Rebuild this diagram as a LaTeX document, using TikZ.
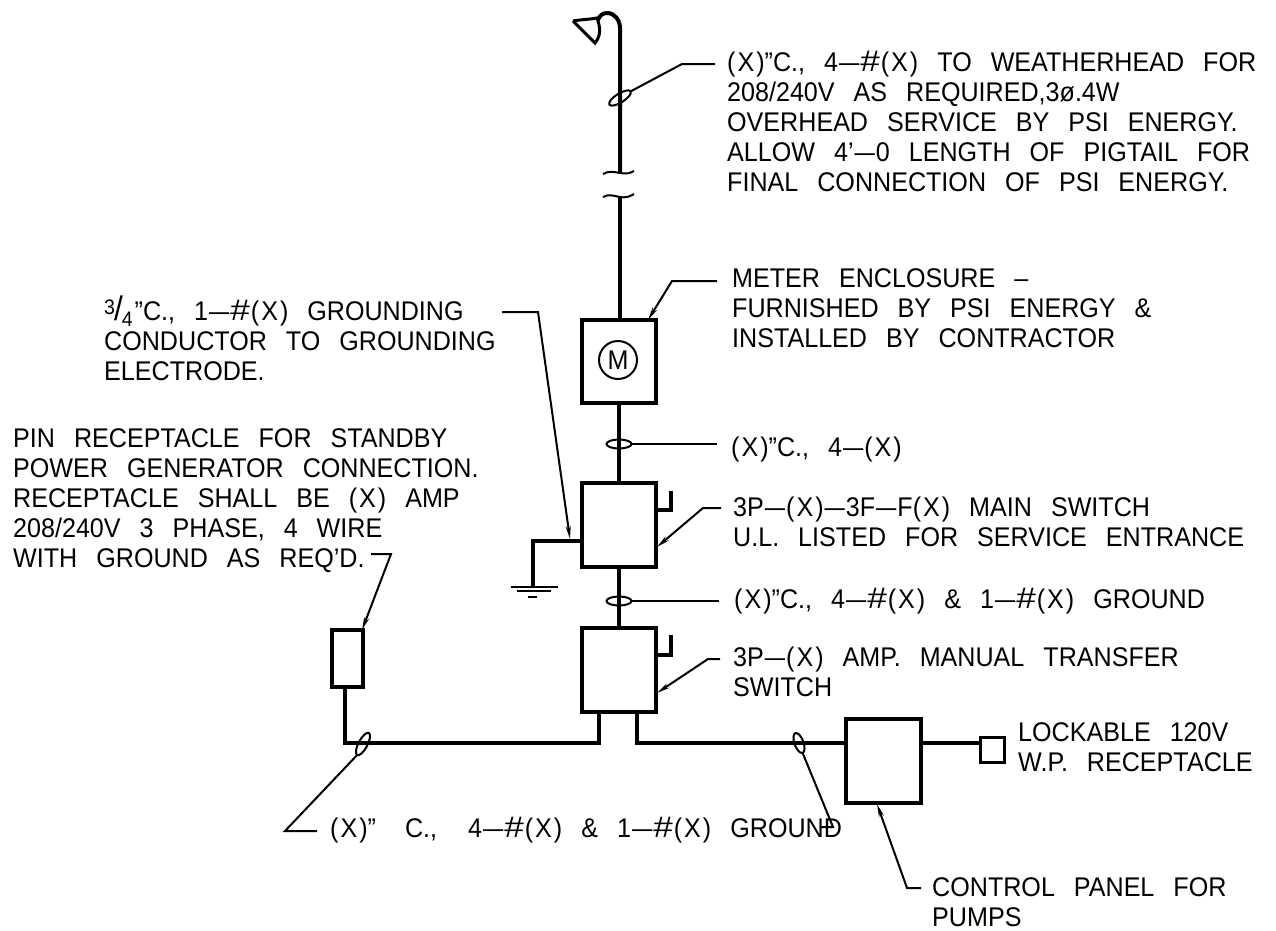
\documentclass[tikz,border=0pt]{standalone}
\usepackage{fontspec}
\setmainfont[FakeStretch=0.93]{Liberation Sans}
\usetikzlibrary{arrows.meta}
\usetikzlibrary{shapes.geometric}
\newcommand{\notefont}{\fontsize{27}{30}\selectfont\spaceskip=19pt\relax}
\newcommand{\threeq}{{\fontsize{21}{21}\selectfont\raisebox{6pt}{3}}\kern-1pt{\fontsize{34}{30}\selectfont/}\kern-1pt{\fontsize{21}{21}\selectfont\raisebox{-6pt}{4}}\kern2pt}
\newcommand{\lnk}{\kern1pt\scalebox{1.45}[1]{--}\kern1pt}
\newcommand{\px}{(\kern2pt X\kern2pt)}
\newcommand{\nmb}{\scalebox{1.4}[1.1]{\#}\kern1pt}
\begin{document}
\begin{tikzpicture}[x=1pt,y=-1pt,
    box/.style={draw,line width=4pt,inner sep=0pt,outer sep=0pt},
    wire/.style={line width=4pt},
    lead/.style={line width=2pt},
    tip/.style={lead,-{Stealth[length=13pt,width=5pt]}},
    ring/.style={draw,ellipse,line width=2pt,inner sep=0pt,outer sep=0pt,minimum width=25pt,minimum height=9pt},
    note/.style={anchor=north west,inner sep=0pt,align=left,font=\notefont}]
    \useasboundingbox (0,0) rectangle (1276,930);
    \node[box,minimum width=74pt,minimum height=83pt] (meter) at (619,361.5) {};
    \node[box,minimum width=74pt,minimum height=84pt] (mainsw) at (619,525) {};
    \node[box,minimum width=74pt,minimum height=84pt] (transfer) at (619,670) {};
    \node[box,minimum width=31pt,minimum height=57pt] (recept) at (347.5,658.5) {};
    \node[box,minimum width=75pt,minimum height=84pt] (panel) at (883.5,761) {};
    \node[draw,line width=3pt,inner sep=0pt,outer sep=0pt,minimum width=24pt,minimum height=25pt] (lockbox) at (992,749.5) {};
    \node[draw,circle,line width=2pt,minimum size=38pt,inner sep=0pt,font=\fontsize{27}{27}\selectfont] (mcircle) at (618,360) {M};
    \node[note] (headtext) at (727,51) {\px"C., 4\lnk\nmb\px{} TO WEATHERHEAD FOR\\208/240V AS REQUIRED,3ø.4W\\OVERHEAD SERVICE BY PSI ENERGY.\\ALLOW 4'\lnk 0 LENGTH OF PIGTAIL FOR\\FINAL CONNECTION OF PSI ENERGY.};
    \node[note] (metertext) at (732,268) {METER ENCLOSURE --\\FURNISHED BY PSI ENERGY \&\\INSTALLED BY CONTRACTOR};
    \node[note] (groundtext) at (104,296) {\threeq"C., 1\lnk\nmb\px{} GROUNDING\\CONDUCTOR TO GROUNDING\\ELECTRODE.};
    \node[note] (pintext) at (13,428) {PIN RECEPTACLE FOR STANDBY\\POWER GENERATOR CONNECTION.\\RECEPTACLE SHALL BE \px{} AMP\\208/240V 3 PHASE, 4 WIRE\\WITH GROUND AS REQ'D.};
    \node[note] (cond1text) at (731,437) {\px"C., 4\lnk\px};
    \node[note] (maintext) at (733,497) {3P\lnk\px\lnk 3F\lnk F\px{} MAIN SWITCH\\U.L. LISTED FOR SERVICE ENTRANCE};
    \node[note] (cond2text) at (734,588) {\px"C., 4\lnk\nmb\px{} \& 1\lnk\nmb\px{} GROUND};
    \node[note] (transtext) at (733,647) {3P\lnk\px{} AMP. MANUAL TRANSFER\\SWITCH};
    \node[note] (locktext) at (1018,722) {LOCKABLE 120V\\W.P. RECEPTACLE};
    \node[note] (cond3text) at (330,817) {\px"\hspace{10pt} C.,\hspace{12pt} 4\lnk\nmb\px{} \& 1\lnk\nmb\px{} GROUND};
    \node[note] (paneltext) at (932,877) {CONTROL PANEL FOR\\PUMPS};
    \node[ring,rotate=32] (ringhead) at (620,98) {};
    \node[ring] (ringa) at (619,444) {};
    \node[ring] (ringb) at (619,601) {};
    \node[ring,rotate=62] (ringl) at (363,744) {};
    \node[ring,rotate=-70,minimum width=21pt] (ringr) at (799,743) {};
    \coordinate (breaka) at (620,173);
    \coordinate (breakb) at (620,197);
    \coordinate (hook) at (598,20);
    \coordinate (gtee) at (533,541);
    \coordinate (gnd) at (533,587);
    \coordinate (teel) at (345,743);
    \coordinate (teer) at (845,743);
    \coordinate (dropl) at (599,712);
    \coordinate (dropr) at (637,712);
    \draw[wire] (hook) to [out=70,in=180] (607,13) to [out=0,in=90] (620,28) -- (breaka);
    \draw[line width=3pt] (573,21) -- (595,43) to [out=50,in=-70] (597,18) to [out=190,in=10] (573,21);
    \draw[lead] (603,174) to [out=30,in=170] (breaka) to [out=-10,in=210] (634,171);
    \draw[lead] (603,197) to [out=30,in=170] (breakb) to [out=-10,in=210] (634,194);
    \draw[wire] (breakb) -- (meter.north -| breakb);
    \draw[wire] (meter.south) -- (mainsw.north);
    \draw[wire] (mainsw.south) -- (transfer.north);
    \draw[wire] (dropl) |- (teel) -- (recept.south -| teel);
    \draw[wire] (dropr) |- (panel.west |- teer);
    \draw[wire] (panel.east |- teer) -- (lockbox.west |- teer);
    \draw[wire] (mainsw.west |- gtee) -- (gtee) -- (gnd);
    \draw[lead] (511,587) -- (558,587);
    \draw[lead] (517,591) -- (551,591);
    \draw[lead] (528,597) -- (537,597);
    \draw[wire] (656,510) -- (671,510) -- (671,491);
    \draw[wire] (656,655) -- (671,655) -- (671,635);
    \draw[lead] (ringhead.east) -- (682,64) -- (715,64);
    \draw[lead] (ringa.east) -- (717,444);
    \draw[lead] (ringb.east) -- (719,601);
    \draw[tip] (717,281) -- (672,281) -- (648,320);
    \draw[tip] (502,312) -- (538,312) -- (570,539);
    \draw[tip] (721,508) -- (703,508) -- (657,547);
    \draw[tip] (720,659) -- (708,659) -- (657,693);
    \draw[tip] (371,554) -- (391,554) -- (362,630);
    \draw[lead] (ringl.west) -- (285,831) -- (317,831);
    \draw[lead] (ringr.east) -- (833,827) -- (820,827);
    \draw[tip] (921,888) -- (907,888) -- (877,804);
\end{tikzpicture}
\end{document}
